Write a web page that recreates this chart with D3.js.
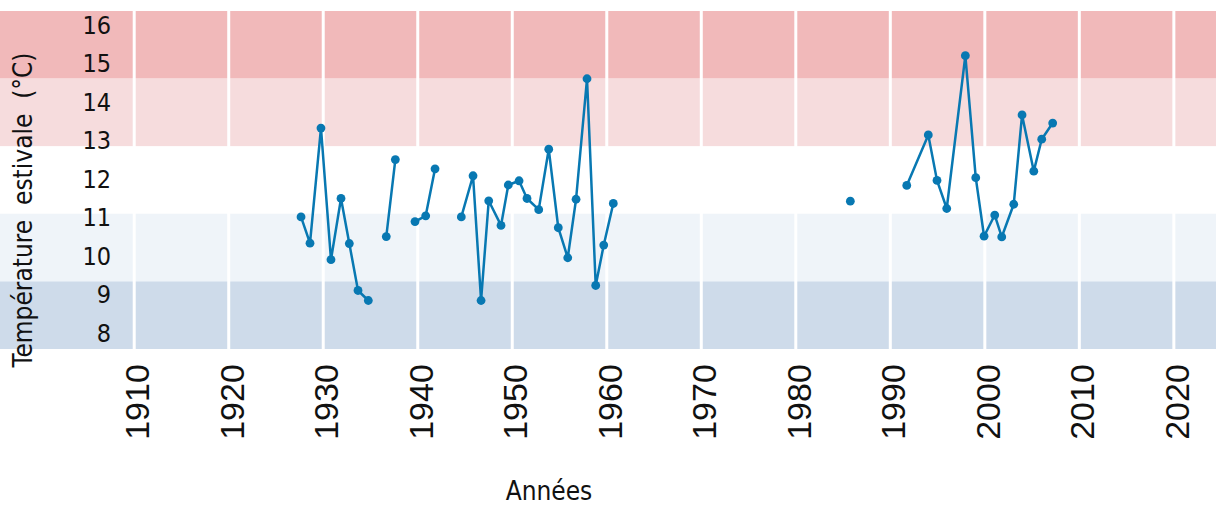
<!DOCTYPE html>
<html>
<head>
<meta charset="utf-8">
<script src="https://cdn.jsdelivr.net/npm/d3@7"></script>
<style>
  body { margin: 0; background: #fff; }
  svg { display: block; }
</style>
</head>
<body>
<svg id="chart"></svg>
<script>
var annees = [1927.65, 1928.60, 1929.76, 1930.82, 1931.88, 1932.76, 1933.68, 1934.77, 1935.7,
              1936.67, 1937.63, 1938.7,
              1939.71, 1940.84, 1941.83, 1943.0,
              1944.61, 1945.85, 1946.70, 1947.51, 1948.81, 1949.58, 1950.72, 1951.56, 1952.80,
              1953.86, 1954.87, 1955.87, 1956.75, 1957.91, 1958.83, 1959.68, 1960.69, 1970.0,
              1985.77, 1988.0,
              1991.74, 1994.02, 1994.94, 1995.97, 1997.94, 1999.04, 1999.92, 2001.05, 2001.79,
              2003.06, 2003.94, 2005.18, 2006.02, 2007.18]
var temperatures = [11.01, 10.33, 13.32, 9.90, 11.49, 10.32, 9.10, 8.84, null,
                    10.50, 12.50, null,
                    10.89, 11.04, 12.26, null,
                    11.01, 12.08, 8.84, 11.43, 10.79, 11.84, 11.95, 11.49, 11.20,
                    12.77, 10.73, 9.95, 11.47, 14.60, 9.23, 10.28, 11.36, null,
                    11.42, null,
                    11.83, 13.14, 11.96, 11.23, 15.20, 12.03, 10.51, 11.06, 10.49,
                    11.34, 13.66, 12.20, 13.03, 13.45]

// classes de temperature (bandes de fond)
var seuilsBandes = [7.58, 9.34, 11.10, 12.85, 14.61, 16.36]
var couleursBandes = ["#cedbea", "#eff4f9", "#ffffff", "#f6dcdd", "#f1b9ba"]

var ticksY = [8, 9, 10, 11, 12, 13, 14, 15, 16]
var ticksX = [1910, 1920, 1930, 1940, 1950, 1960, 1970, 1980, 1990, 2000, 2010, 2020]
var domaineX = [1895.8, 2024.46]

var dimensions = {
    width: 1216,
    height: 505,
    plot: { top: 11, bottom: 349, left: 0, right: 1216 }
}

var dataset = annees.map((a, i) => ({ annee: a, temp: temperatures[i] }))

var svg = d3.select("#chart")
            .attr("width", dimensions.width)
            .attr("height", dimensions.height)

var xScale = d3.scaleLinear()
               .domain(domaineX)
               .range([dimensions.plot.left, dimensions.plot.right])

var yScale = d3.scaleLinear()
               .domain([seuilsBandes[0], seuilsBandes[seuilsBandes.length - 1]])
               .range([dimensions.plot.bottom, dimensions.plot.top])

// bandes
svg.append("g")
   .selectAll("rect")
   .data(d3.pairs(seuilsBandes))
   .enter()
   .append("rect")
   .attr("x", dimensions.plot.left)
   .attr("width", dimensions.plot.right - dimensions.plot.left)
   .attr("y", d => yScale(d[1]))
   .attr("height", d => yScale(d[0]) - yScale(d[1]))
   .attr("fill", (_, i) => couleursBandes[i])

// grille verticale
svg.append("g")
   .selectAll("line")
   .data(ticksX)
   .enter()
   .append("line")
   .attr("x1", d => xScale(d))
   .attr("x2", d => xScale(d))
   .attr("y1", dimensions.plot.top)
   .attr("y2", dimensions.plot.bottom)
   .attr("stroke", "#ffffff")
   .attr("stroke-width", 3)

// courbe
var line = d3.line()
             .defined(d => d.temp !== null)
             .x(d => xScale(d.annee))
             .y(d => yScale(d.temp))

svg.append("path")
   .datum(dataset)
   .attr("d", line)
   .attr("fill", "none")
   .attr("stroke", "#0878b2")
   .attr("stroke-width", 2.5)
   .attr("stroke-linejoin", "round")

svg.append("g")
   .selectAll("circle")
   .data(dataset.filter(d => d.temp !== null))
   .enter()
   .append("circle")
   .attr("cx", d => xScale(d.annee))
   .attr("cy", d => yScale(d.temp))
   .attr("r", 4.4)
   .attr("fill", "#0878b2")

// axe Y
svg.append("g")
   .selectAll("text")
   .data(ticksY)
   .enter()
   .append("text")
   .text(d => d)
   .attr("x", 111)
   .attr("y", d => yScale(d))
   .attr("dy", "0.36em")
   .attr("text-anchor", "end")
   .style("font-family", "'DejaVu Sans Condensed', 'DejaVu Sans'")
   .style("font-size", "25px")
   .attr("fill", "#111")

// axe X
svg.append("g")
   .selectAll("text")
   .data(ticksX)
   .enter()
   .append("text")
   .text(d => d)
   .attr("transform", d => `translate(${xScale(d) + 15},402) rotate(-90)`)
   .attr("text-anchor", "middle")
   .style("font-family", "'Liberation Sans', Arial")
   .style("font-size", "34px")
   .attr("fill", "#111")

// titres
svg.append("text")
   .text("Température  estivale  (°C)")
   .attr("transform", "translate(32,210) rotate(-90)")
   .attr("text-anchor", "middle")
   .style("white-space", "pre")
   .style("font-family", "'DejaVu Sans Condensed', 'DejaVu Sans'")
   .style("font-size", "26px")
   .attr("fill", "#111")

svg.append("text")
   .text("Années")
   .attr("x", 549)
   .attr("y", 500)
   .attr("text-anchor", "middle")
   .style("font-family", "'DejaVu Sans Condensed', 'DejaVu Sans'")
   .style("font-size", "26px")
   .attr("fill", "#111")
</script>
</body>
</html>
